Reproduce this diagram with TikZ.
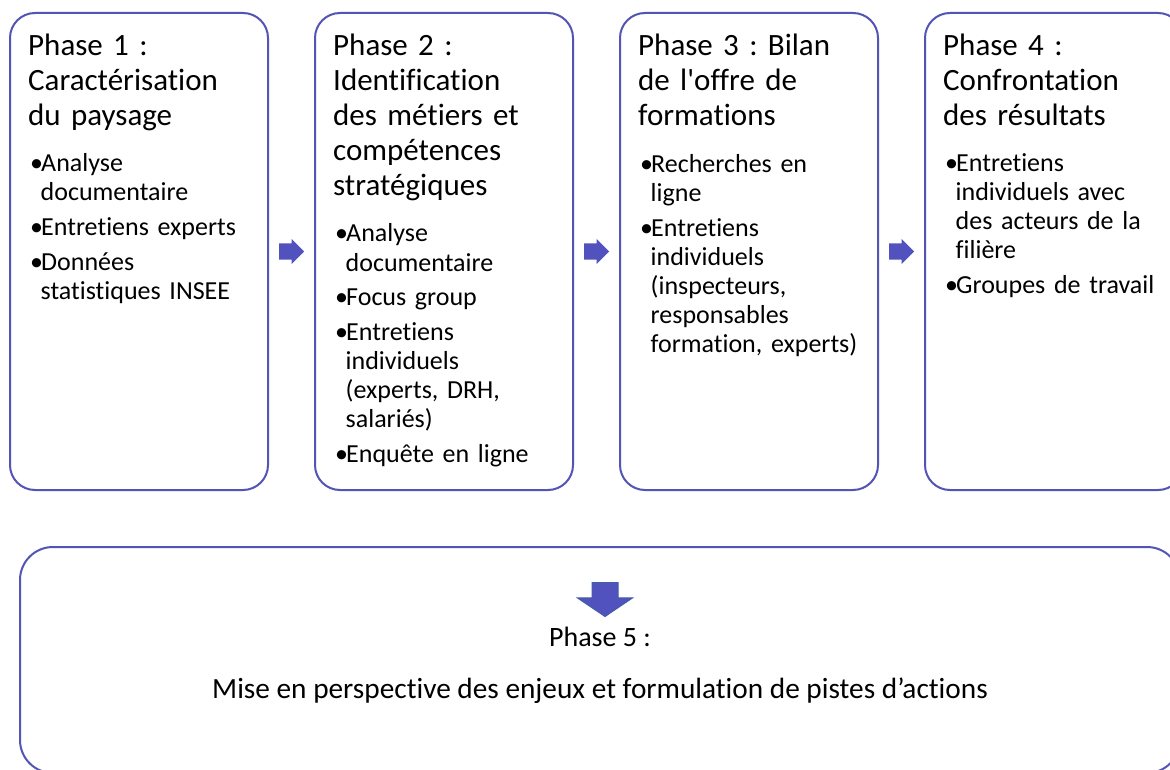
\documentclass[tikz,border=0pt]{standalone}
\usepackage{fontspec}
\setmainfont{Carlito}[Ligatures={NoCommon}]
\usepackage{tikz}
\usetikzlibrary{positioning,calc,shapes.arrows}

\definecolor{cadre}{RGB}{84,84,180}
\definecolor{flechefond}{RGB}{82,82,190}
\definecolor{flechebord}{RGB}{65,95,165}

\frenchspacing
\newcommand{\puce}[1]{\hangindent=10.5pt\hangafter=1\noindent\makebox[11pt][l]{\textbullet}#1\par}

\tikzset{
  phase/.style={draw=cadre, line width=2pt, rounded corners=25pt, minimum width=258pt, minimum height=477pt, inner sep=0pt, outer sep=0pt},
  finbox/.style={draw=cadre, line width=2pt, rounded corners=33pt, minimum width=1160pt, minimum height=226pt, inner sep=0pt, outer sep=0pt},
  titre/.style={anchor=base west, inner sep=0pt, text width=240pt, align=left, font=\fontsize{31}{35}\selectfont},
  liste/.style={anchor=base west, inner sep=0pt, text width=236pt, align=left, font=\fontsize{26}{29}\selectfont, execute at begin node={\setlength{\parskip}{6pt}}},
  fin/.style={anchor=base, inner sep=0pt, font=\fontsize{28}{34}\selectfont},
  fleche/.style={single arrow, fill=flechefond, draw=none, inner xsep=0pt, inner ysep=8pt, minimum height=25pt, single arrow head extend=4.5pt, single arrow tip angle=90, anchor=tail},
  flechebas/.style={single arrow, fill=flechefond, draw=flechebord, line width=1pt, inner xsep=0pt, inner ysep=12.5pt, minimum height=34pt, single arrow head extend=14.5pt, single arrow tip angle=112, rotate=-90, anchor=tail}
}

\begin{document}
\begin{tikzpicture}[x=1pt,y=-1pt]

  \fill[white] (0,0) rectangle (1170,770);
  \useasboundingbox (0,0) rectangle (1170,770);
  \clip (0,0) rectangle (1170,770);

  % les quatre phases
  \node[phase, anchor=north west] (b1) at (10,13) {};
  \node[phase] (b2) [right=47pt of b1] {};
  \node[phase] (b3) [right=47pt of b2] {};
  \node[phase] (b4) [right=47pt of b3] {};

  \node[titre] (t1) at ($(b1.north west)+(18,43)$) {Phase 1 :\newline Caractérisation\newline du paysage};
  \node[titre] (t2) at ($(b2.north west)+(18,43)$) {Phase 2 :\newline Identification\newline des métiers et\newline compétences\newline stratégiques};
  \node[titre] (t3) at ($(b3.north west)+(18,43)$) {Phase 3 : Bilan\newline de l\textquotesingle offre de\newline formations};
  \node[titre] (t4) at ($(b4.north west)+(18,43)$) {Phase 4 :\newline Confrontation\newline des résultats};

  \node[liste] (l1) at ($(b1.north west)+(20,159)$) {%
    \puce{Analyse\newline documentaire}
    \puce{Entretiens experts}
    \puce{Données\newline statistiques INSEE}};
  \node[liste] (l2) at ($(b2.north west)+(20,229)$) {%
    \puce{Analyse\newline documentaire}
    \puce{Focus group}
    \puce{Entretiens\newline individuels\newline (experts, DRH,\newline salariés)}
    \puce{Enquête en ligne}};
  \node[liste] (l3) at ($(b3.north west)+(20,160)$) {%
    \puce{Recherches en\newline ligne}
    \puce{Entretiens\newline individuels\newline (inspecteurs,\newline responsables\newline formation, experts)}};
  \node[liste] (l4) at ($(b4.north west)+(20,159)$) {%
    \puce{Entretiens\newline individuels avec\newline des acteurs de la\newline filière}
    \puce{Groupes de travail}};

  % fleches entre les phases
  \node[fleche] (f12) at ($(b1.east)+(11,0)$) {};
  \node[fleche] (f23) at ($(b2.east)+(11,0)$) {};
  \node[fleche] (f34) at ($(b3.east)+(11,0)$) {};

  % phase 5
  \node[finbox] (b5) at (600,660) {};
  \node[flechebas] (f5) at (605,582) {};
  \node[fin] (p5) at (600,646) {Phase 5 :};
  \node[fin, font=\fontsize{29.3}{34}\selectfont] (a5) at (600,698) {Mise en perspective des enjeux et formulation de pistes d’actions};

\end{tikzpicture}
\end{document}
